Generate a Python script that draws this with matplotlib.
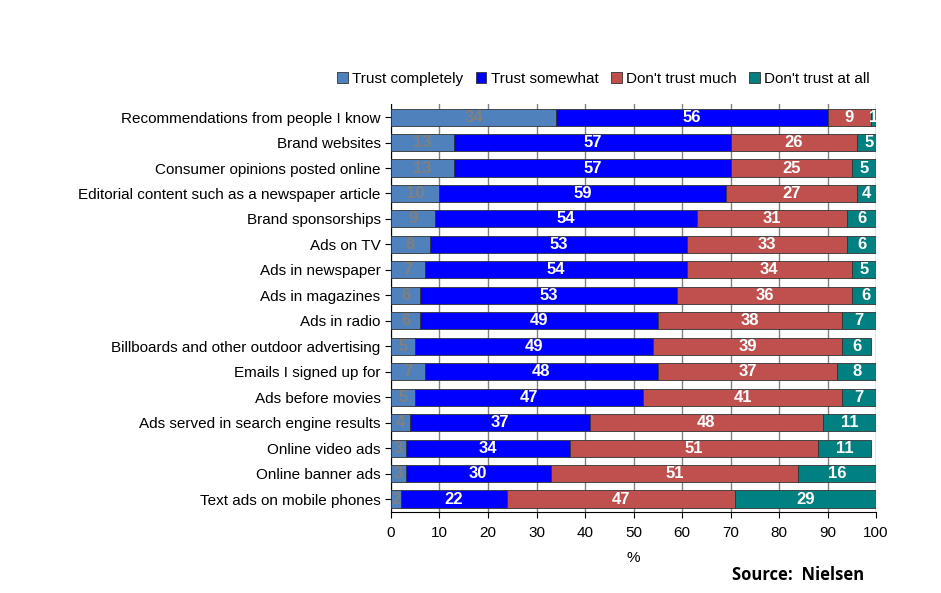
import numpy as np
import matplotlib.pyplot as plt

plt.rcParams['font.family'] = ['Liberation Sans', 'DejaVu Sans']

categories = [
    "Recommendations from people I know",
    "Brand websites",
    "Consumer opinions posted online",
    "Editorial content such as a newspaper article",
    "Brand sponsorships",
    "Ads on TV",
    "Ads in newspaper",
    "Ads in magazines",
    "Ads in radio",
    "Billboards and other outdoor advertising",
    "Emails I signed up for",
    "Ads before movies",
    "Ads served in search engine results",
    "Online video ads",
    "Online banner ads",
    "Text ads on mobile phones",
]
trust_completely = [34, 13, 13, 10, 9, 8, 7, 6, 6, 5, 7, 5, 4, 3, 3, 2]
trust_somewhat = [56, 57, 57, 59, 54, 53, 54, 53, 49, 49, 48, 47, 37, 34, 30, 22]
dont_trust_much = [9, 26, 25, 27, 31, 33, 34, 36, 38, 39, 37, 41, 48, 51, 51, 47]
dont_trust_at_all = [1, 5, 5, 4, 6, 6, 5, 6, 7, 6, 8, 7, 11, 11, 16, 29]

series = [
    ("Trust completely", trust_completely, "#4F81BD", "#808080"),
    ("Trust somewhat", trust_somewhat, "#0000FF", "white"),
    ("Don't trust much", dont_trust_much, "#C0504D", "white"),
    ("Don't trust at all", dont_trust_at_all, "#008080", "white"),
]

fig = plt.figure(figsize=(9.41, 5.93), dpi=100)
ax = fig.add_axes([0.4155, 0.137, 0.5155, 0.687])

y = np.arange(len(categories))
left = np.zeros(len(categories))
for name, vals, color, tcolor in series:
    vals = np.array(vals, dtype=float)
    bars = ax.barh(y, vals, left=left, height=0.67, color=color,
                   edgecolor="#333333", linewidth=0.6, label=name, zorder=3)
    for b, v in zip(bars, vals):
        ax.text(b.get_x() + b.get_width() / 2, b.get_y() + b.get_height() / 2,
                f"{int(v)}", ha="center", va="center", color=tcolor,
                fontsize=12, fontweight="bold", zorder=4)
    left += vals

ax.set_ylim(len(categories) - 0.5, -0.5)
ax.set_xlim(0, 100)
ax.set_xticks(range(0, 101, 10))
ax.set_yticks(y)
ax.set_yticklabels(categories, fontsize=11)
ax.tick_params(axis="x", labelsize=11, length=4, pad=6)
ax.tick_params(axis="y", length=4)
ax.xaxis.grid(True, color="#808080", linewidth=1, zorder=0)
ax.set_axisbelow(True)
for s in ["top", "right"]:
    ax.spines[s].set_visible(False)
ax.set_xlabel("%", fontsize=11, labelpad=8)

ax.legend(loc="lower right", bbox_to_anchor=(1.0, 1.03), ncol=4, frameon=False,
          fontsize=11, handlelength=0.7, handleheight=0.7, handletextpad=0.3,
          columnspacing=0.8, borderaxespad=0)

fig.text(0.918, 0.015, "Source:  Nielsen", ha="right", va="bottom",
         fontsize=12, fontweight="bold", family=["Open Sans", "DejaVu Sans"])

fig.savefig("out.png", dpi=100)
